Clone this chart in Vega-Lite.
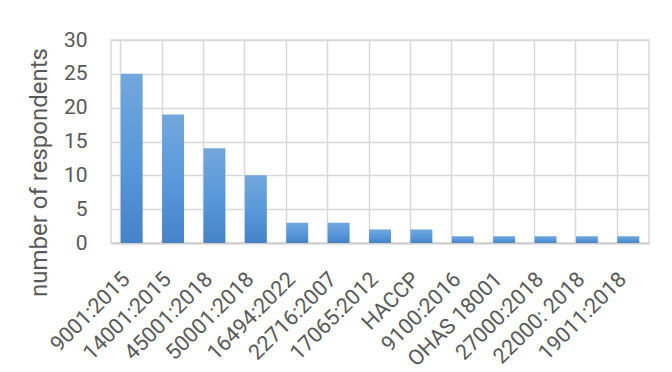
{
  "$schema": "https://vega.github.io/schema/vega-lite/v6.json",
  "width": 538,
  "height": 203,
  "autosize": "none",
  "padding": {"left": 111, "top": 40, "right": 23, "bottom": 129},
  "background": "white",
  "data": {
    "values": [
      {"standard": "9001:2015", "respondents": 25},
      {"standard": "14001:2015", "respondents": 19},
      {"standard": "45001:2018", "respondents": 14},
      {"standard": "50001:2018", "respondents": 10},
      {"standard": "16494:2022", "respondents": 3},
      {"standard": "22716:2007", "respondents": 3},
      {"standard": "17065:2012", "respondents": 2},
      {"standard": "HACCP", "respondents": 2},
      {"standard": "9100:2016", "respondents": 1},
      {"standard": "OHAS 18001", "respondents": 1},
      {"standard": "27000:2018", "respondents": 1},
      {"standard": "22000: 2018", "respondents": 1},
      {"standard": "19011:2018", "respondents": 1}
    ]
  },
  "mark": {
    "type": "bar",
    "color": {
      "gradient": "linear",
      "x1": 0, "y1": 0, "x2": 0, "y2": 1,
      "stops": [
        {"offset": 0, "color": "#72a7dd"},
        {"offset": 0.5, "color": "#5a99db"},
        {"offset": 1, "color": "#4583c6"}
      ]
    }
  },
  "encoding": {
    "x": {
      "field": "standard",
      "type": "nominal",
      "sort": null,
      "scale": {"paddingInner": 0.47, "paddingOuter": 0.235},
      "axis": {
        "title": null,
        "labelAngle": -45,
        "labelAlign": "right",
        "labelBaseline": "middle",
        "labelOffset": -5,
        "labelFont": "Roboto",
        "labelFontSize": 21.5,
        "labelColor": "#595959",
        "labelPadding": 33,
        "ticks": false,
        "grid": true,
        "bandPosition": 0,
        "gridColor": "#d9d9d9",
        "gridWidth": 1.5,
        "domainColor": "#d0d0d0",
        "domainWidth": 2
      }
    },
    "y": {
      "field": "respondents",
      "type": "quantitative",
      "scale": {"domain": [0, 30]},
      "axis": {
        "title": "number of respondents",
        "titleFont": "Roboto",
        "titleFontSize": 24,
        "titleFontWeight": "normal",
        "titleColor": "#595959",
        "titlePadding": 12,
        "titleY": 132,
        "values": [0, 5, 10, 15, 20, 25, 30],
        "labelFont": "Roboto",
        "labelFontSize": 21,
        "labelColor": "#595959",
        "labelPadding": 24,
        "ticks": false,
        "domain": false,
        "gridColor": "#d9d9d9",
        "gridWidth": 1.5
      }
    }
  },
  "config": {
    "view": {"stroke": "#d9d9d9", "strokeWidth": 1.5}
  }
}
